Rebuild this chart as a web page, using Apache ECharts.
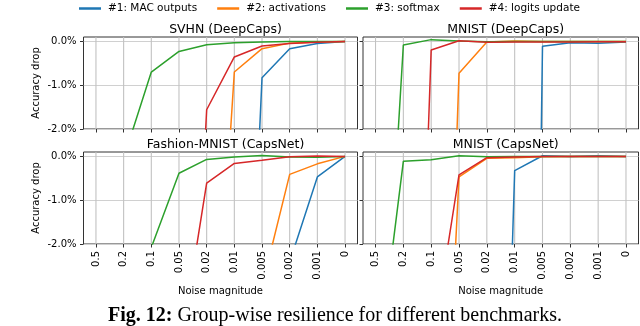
<!DOCTYPE html>
<html lang="en">

<head>
  <meta charset="UTF-8" />
  <title>Group-wise resilience</title>
  <script src="https://cdn.jsdelivr.net/npm/echarts@6/dist/echarts.min.js"></script>
</head>

<body style="margin: 0; overflow: hidden; background: #fff;">
  <div id="panel" style="width: 640px; height: 326px;"></div>
  <script>
    // x positions: noise magnitude (categorical, evenly spaced)
    var noiseLabels = ['0.5', '0.2', '0.1', '0.05', '0.02', '0.01', '0.005', '0.002', '0.001', '0'];
    var groupNames = ['#1: MAC outputs', '#2: activations', '#3: softmax', '#4: logits update'];
    var panelTitles = ['SVHN (DeepCaps)', 'MNIST (DeepCaps)', 'Fashion-MNIST (CapsNet)', 'MNIST (CapsNet)'];
    var yTicks = [-2, -1, 0];
    var yMin = -2, yMax = 0.1;

    // accuracy drop in %, values below -2 run off the plot
    var svhnDeepMac = [-20, -18, -17, -16, -15.5, -14.8, -0.83, -0.166, -0.05, 0];
    var svhnDeepAct = [-18, -16, -14, -12, -10.5, -0.70, -0.166, -0.04, -0.015, 0];
    var svhnDeepSoft = [-3.5, -2.67, -0.70, -0.23, -0.075, -0.03, -0.015, 0, 0, 0];
    var svhnDeepLogit = [-18, -16, -15, -13.8, -1.56, -0.355, -0.105, -0.05, -0.02, 0];

    var mnistDeepMac = [-50, -48, -47, -46, -45, -45, -0.11, -0.03, -0.045, -0.015];
    var mnistDeepAct = [-20, -19.5, -18.9, -0.73, -0.015, 0.01, 0, 0, 0, 0];
    var mnistDeepSoft = [-10.7, -0.083, 0.04, 0.01, -0.01, 0, 0, 0, 0, 0];
    var mnistDeepLogit = [-20, -18.2, -0.196, 0.015, -0.02, -0.015, -0.015, -0.015, -0.01, -0.01];

    var fashionCapsMac = [-8, -7, -6, -5, -4.5, -4, -3.5, -2.41, -0.47, 0];
    var fashionCapsAct = [-8, -7, -6, -5, -4.5, -4, -2.97, -0.41, -0.17, 0];
    var fashionCapsSoft = [-4, -3, -2.08, -0.385, -0.07, -0.015, 0.02, -0.015, -0.02, 0];
    var fashionCapsLogit = [-8, -7, -6, -4.58, -0.61, -0.16, -0.09, -0.01, 0.01, 0];

    var mnistCapsMac = [-25, -24, -23, -22, -21.3, -0.325, 0.015, 0, 0.015, 0];
    var mnistCapsAct = [-16, -15, -13.2, -0.47, -0.045, -0.03, -0.008, 0, 0, 0];
    var mnistCapsSoft = [-5.2, -0.113, -0.075, 0.015, -0.008, 0, 0, 0, 0, 0];
    var mnistCapsLogit = [-6, -5, -4.47, -0.42, -0.03, -0.015, 0, 0, 0, 0];

    var panelData = [
      [svhnDeepMac, svhnDeepAct, svhnDeepSoft, svhnDeepLogit],
      [mnistDeepMac, mnistDeepAct, mnistDeepSoft, mnistDeepLogit],
      [fashionCapsMac, fashionCapsAct, fashionCapsSoft, fashionCapsLogit],
      [mnistCapsMac, mnistCapsAct, mnistCapsSoft, mnistCapsLogit]
    ];
    var colors = ['#1f77b4', '#ff7f0e', '#2ca02c', '#d62728'];

    var font = 'DejaVu Sans';
    var gridColor = '#d0d0d0';
    var tickIdx = noiseLabels.map(function (l, i) { return i; });
    var grids = [
      { left: 83.5, top: 37, width: 274, height: 92 },
      { left: 363, top: 37, width: 275.5, height: 92 },
      { left: 83.5, top: 152, width: 274, height: 92 },
      { left: 363, top: 152, width: 275.5, height: 92 }
    ];

    // vertical grid lines, one segment per noise level, broken by nulls
    var vGridData = [];
    tickIdx.forEach(function (i) {
      vGridData.push([i, yMin], [i, yMax], [i, null]);
    });

    var myChart = echarts.init(document.getElementById('panel'));

    var xAxes = [], yAxes = [], series = [], titles = [];
    grids.forEach(function (g, p) {
      g.show = true;
      g.borderColor = '#333';
      g.borderWidth = 1;
      g.containLabel = false;
      var bottomRow = p >= 2, leftCol = p % 2 === 0;
      xAxes.push({
        type: 'value', gridIndex: p, min: -0.45, max: 9.45,
        axisLine: { show: false, onZero: false },
        axisTick: { show: true, length: 3.5, customValues: tickIdx, lineStyle: { color: '#333' } },
        splitLine: { show: false },
        axisLabel: {
          show: bottomRow, customValues: tickIdx, rotate: 90, margin: 7,
          fontFamily: font, fontSize: 10, color: '#000',
          formatter: function (v) { return noiseLabels[Math.round(v)]; }
        },
        name: bottomRow ? 'Noise magnitude' : '',
        nameLocation: 'middle', nameGap: 42,
        nameTextStyle: { fontFamily: font, fontSize: 10, color: '#000' }
      });
      yAxes.push({
        type: 'value', gridIndex: p, min: yMin, max: yMax,
        axisLine: { show: false, onZero: false },
        axisTick: { show: true, length: 3.5, customValues: yTicks, lineStyle: { color: '#333' } },
        splitLine: { show: true, lineStyle: { color: gridColor, width: 1 } },
        axisLabel: {
          show: leftCol, customValues: yTicks, margin: 7,
          fontFamily: font, fontSize: 10, color: '#000',
          formatter: function (v) { return v.toFixed(1) + '%'; }
        },
        name: leftCol ? 'Accuracy drop' : '',
        nameLocation: 'middle', nameGap: 42,
        nameTextStyle: { fontFamily: font, fontSize: 10, color: '#000' }
      });
      titles.push({
        text: panelTitles[p],
        left: g.left + g.width / 2, top: g.top - 19, textAlign: 'center',
        textStyle: { fontFamily: font, fontSize: 12.5, fontWeight: 'normal', color: '#000' }
      });
      // drawn first so the data lines sit on top
      series.push({
        name: 'grid' + p, type: 'line', silent: true,
        xAxisIndex: p, yAxisIndex: p,
        data: vGridData,
        showSymbol: false, animation: false,
        lineStyle: { width: 1.1, color: '#c2c2c2' }
      });
      panelData[p].forEach(function (vals, s) {
        series.push({
          name: groupNames[s], type: 'line',
          xAxisIndex: p, yAxisIndex: p,
          data: vals.map(function (v, i) { return [i, v]; }),
          showSymbol: false, clip: true, animation: false,
          lineStyle: { width: 1.5, color: colors[s] },
          itemStyle: { color: colors[s] }
        });
      });
    });

    var option = {
      color: colors,
      animation: false,
      title: titles,
      legend: {
        data: groupNames, top: -2, left: 74,
        icon: 'rect', itemWidth: 22, itemHeight: 2.5, itemGap: 20,
        textStyle: { fontFamily: font, fontSize: 10.5, color: '#000', padding: [0, 0, 0, 2] }
      },
      grid: grids,
      xAxis: xAxes,
      yAxis: yAxes,
      series: series,
      graphic: [{
        type: 'text', x: 335, y: 316,
        style: {
          text: '{b|Fig. 12:} Group-wise resilience for different benchmarks.',
          font: '20px "Liberation Serif"', fill: '#000',
          align: 'center', verticalAlign: 'middle',
          rich: { b: { fontWeight: 'bold', fontFamily: 'Liberation Serif', fontSize: 20 } }
        }
      }]
    };

    myChart.setOption(option);
  </script>
</body>

</html>
